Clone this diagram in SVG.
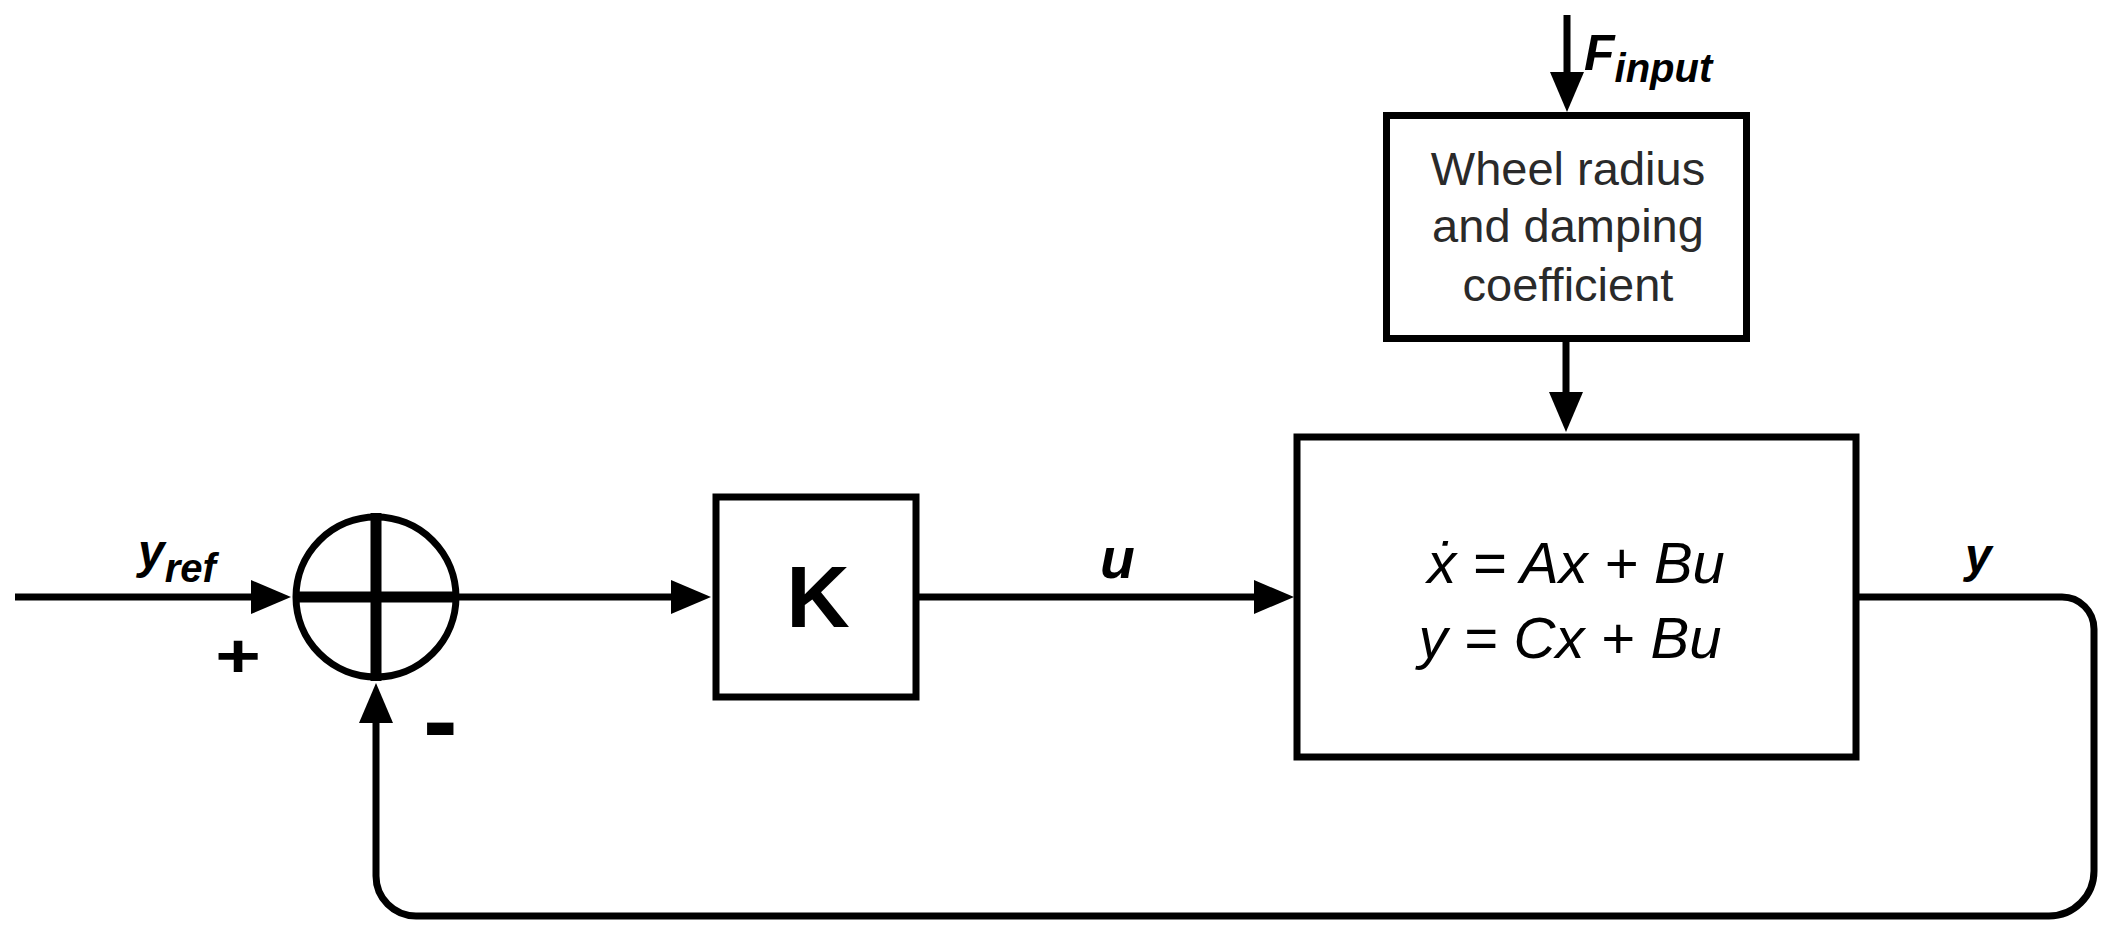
<svg xmlns="http://www.w3.org/2000/svg" width="2111" height="935" viewBox="0 0 2111 935">
<style>
.box{fill:#fff;stroke:#000;stroke-width:7}
.ln{fill:none;stroke:#000;stroke-width:7}
.lab{font-family:"Liberation Sans",Arial,sans-serif;font-weight:bold;font-style:italic;fill:#000}
.eq{font-family:"Liberation Sans",Arial,sans-serif;font-style:italic;font-size:58px;fill:#000;text-anchor:middle}
.wh{font-family:"Liberation Sans",Arial,sans-serif;font-size:47px;fill:#2a2a2a;text-anchor:middle}
</style>
<defs>
<marker id="arr" markerUnits="userSpaceOnUse" markerWidth="42" markerHeight="36" refX="1" refY="17" orient="auto" viewBox="0 0 42 36">
<path d="M0,0 L40,17 L0,34 z" fill="#000"/>
</marker>
</defs>
<rect width="2111" height="935" fill="#fff"/>
<g id="connectors">
<path class="ln" d="M15,597 H252" marker-end="url(#arr)"/>
<path class="ln" d="M459,597 H672" marker-end="url(#arr)"/>
<path class="ln" d="M916,597 H1255" marker-end="url(#arr)"/>
<path class="ln" d="M1567,15 V73" marker-end="url(#arr)"/>
<path class="ln" d="M1566,342 V393" marker-end="url(#arr)"/>
<path class="ln" d="M1856,597 H2062 A32,32 0 0 1 2094,629 V871 A45,45 0 0 1 2049,916 H416 A40,40 0 0 1 376,876 V722" marker-end="url(#arr)"/>
</g>
<g id="sum">
<circle cx="376" cy="597" r="80" fill="#fff" stroke="#000" stroke-width="7"/>
<line x1="293" y1="597" x2="459" y2="597" stroke="#000" stroke-width="11"/>
<line x1="376" y1="513" x2="376" y2="681" stroke="#000" stroke-width="11"/>
<text transform="translate(238,677) scale(1.26,1)" font-family="Liberation Sans,Arial,sans-serif" font-weight="bold" font-size="62" text-anchor="middle">+</text>
<text x="423" y="756" font-family="Liberation Sans,Arial,sans-serif" font-weight="bold" font-size="104">-</text>
</g>
<g id="K">
<rect class="box" x="716" y="497" width="200" height="200"/>
<text x="818" y="627" font-family="Liberation Sans,Arial,sans-serif" font-weight="bold" font-size="88" text-anchor="middle">K</text>
</g>
<g id="wheel">
<rect class="box" x="1386.5" y="115.5" width="360" height="223"/>
<text class="wh" x="1568" y="185">Wheel radius</text>
<text class="wh" x="1568" y="242">and damping</text>
<text class="wh" x="1568" y="301">coefficient</text>
</g>
<g id="plant">
<rect class="box" x="1297" y="437" width="559" height="320"/>
<text class="eq" x="1576" y="583">ẋ = Ax + Bu</text>
<text class="eq" x="1570" y="658">y = Cx + Bu</text>
</g>
<g id="labels">
<text class="lab" x="138" y="568" font-size="48">y<tspan font-size="40" dy="14">ref</tspan></text>
<text class="lab" x="1100" y="578" font-size="57">u</text>
<text class="lab" x="1965" y="572" font-size="48">y</text>
<text class="lab" x="1584" y="70" font-size="50">F<tspan font-size="40" dy="12">input</tspan></text>
</g>
</svg>
